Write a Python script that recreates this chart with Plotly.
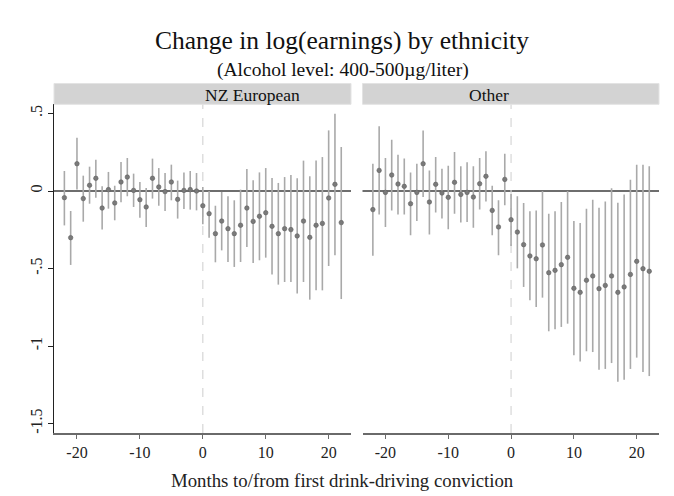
import plotly.graph_objects as go

# Event-time (months relative to first drink-driving conviction)
months = list(range(-22, 23))

# NZ European: point estimates and 95% CI bounds
nz_est = [-0.043, -0.301, 0.176, -0.049, 0.037, 0.082, -0.110, 0.009, -0.077, 0.058,
          0.090, 0.004, -0.056, -0.103, 0.082, 0.026, -0.004, 0.058, -0.054, 0.004,
          0.009, 0.000, -0.095, -0.146, -0.275, -0.194, -0.243, -0.275, -0.221, -0.110,
          -0.196, -0.163, -0.140, -0.228, -0.275, -0.243, -0.249, -0.290, -0.194, -0.299,
          -0.221, -0.209, -0.045, 0.043, -0.204]
nz_hi = [0.129, -0.129, 0.344, 0.099, 0.157, 0.202, 0.030, 0.123, 0.034, 0.187,
         0.213, 0.112, 0.058, 0.019, 0.209, 0.148, 0.116, 0.170, 0.067, 0.120,
         0.129, 0.116, 0.026, 0.000, -0.095, -0.006, -0.034, -0.060, 0.009, 0.142,
         0.069, 0.120, 0.148, 0.084, 0.052, 0.090, 0.103, 0.082, 0.196, 0.095,
         0.196, 0.219, 0.391, 0.499, 0.284]
nz_lo = [-0.222, -0.477, 0.009, -0.198, -0.082, -0.043, -0.249, -0.114, -0.189, -0.073,
         -0.034, -0.103, -0.172, -0.232, -0.049, -0.095, -0.129, -0.060, -0.178, -0.116,
         -0.120, -0.125, -0.215, -0.301, -0.460, -0.383, -0.458, -0.490, -0.458, -0.361,
         -0.465, -0.447, -0.430, -0.538, -0.604, -0.587, -0.587, -0.662, -0.587, -0.701,
         -0.641, -0.641, -0.484, -0.415, -0.697]

# Other ethnicities: point estimates and 95% CI bounds
ot_est = [-0.120, 0.133, -0.009, 0.103, 0.045, 0.030, -0.082, -0.009, 0.176, -0.071,
          0.043, -0.013, -0.041, 0.056, -0.022, -0.009, -0.039, 0.047, 0.095, -0.125,
          -0.232, 0.075, -0.185, -0.265, -0.346, -0.419, -0.437, -0.348, -0.527, -0.512,
          -0.475, -0.428, -0.628, -0.654, -0.576, -0.548, -0.630, -0.609, -0.548, -0.654,
          -0.619, -0.538, -0.454, -0.501, -0.518]
ot_hi = [0.176, 0.417, 0.213, 0.331, 0.234, 0.209, 0.120, 0.176, 0.391, 0.133,
         0.219, 0.144, 0.163, 0.252, 0.159, 0.185, 0.159, 0.213, 0.256, 0.034,
         -0.060, 0.241, -0.020, -0.034, -0.077, -0.131, -0.125, 0.000, -0.146, -0.131,
         -0.071, 0.000, -0.194, -0.206, -0.114, -0.056, -0.108, -0.067, 0.017, -0.075,
         -0.022, 0.073, 0.170, 0.170, 0.159]
ot_lo = [-0.417, -0.151, -0.232, -0.125, -0.151, -0.151, -0.286, -0.194, -0.039, -0.280,
         -0.138, -0.178, -0.247, -0.146, -0.204, -0.200, -0.237, -0.120, -0.067, -0.286,
         -0.415, -0.092, -0.355, -0.499, -0.619, -0.705, -0.748, -0.688, -0.905, -0.892,
         -0.877, -0.856, -1.060, -1.100, -1.034, -1.039, -1.153, -1.148, -1.110, -1.230,
         -1.217, -1.148, -1.075, -1.168, -1.194]

panel_titles = ["NZ European", "Other"]
x_ticks = [-20, -10, 0, 10, 20]
x_tick_text = ["-20", "-10", "0", "10", "20"]
y_ticks = [0.5, 0, -0.5, -1, -1.5]
y_tick_text = [".5", "0", "-.5", "-1", "-1.5"]

FONT = "Liberation Serif"
W, H = 674, 496


def px_x(p):
    return p / W


def px_y(p):
    return (H - p) / H


fig = go.Figure()

panels = [(nz_est, nz_hi, nz_lo, "x", "y"), (ot_est, ot_hi, ot_lo, "x2", "y2")]
for est, hi, lo, xa, ya in panels:
    fig.add_trace(go.Scatter(
        x=months, y=est, xaxis=xa, yaxis=ya, mode="markers",
        marker=dict(size=4.5, color="#7a7a7a", line=dict(width=0.6, color="#5f5f5f")),
        error_y=dict(type="data", symmetric=False,
                     array=[h - e for h, e in zip(hi, est)],
                     arrayminus=[e - l for e, l in zip(est, lo)],
                     color="#a9a9a9", thickness=1.6, width=0),
        showlegend=False, hoverinfo="skip",
    ))

dom_left = [px_x(54), px_x(351)]
dom_right = [px_x(362.5), px_x(659)]
dom_y = [px_y(433), px_y(104)]
x_range = [-23.65, 23.55]
y_range = [(191 - 433) / 155, (191 - 104) / 155]

axis_x_common = dict(range=x_range, tickvals=x_ticks, ticktext=x_tick_text,
                     ticks="outside", ticklen=4,
                     tickcolor="#6a6a6a", showline=True, linecolor="#6a6a6a", linewidth=1.5,
                     showgrid=False, zeroline=False,
                     tickfont=dict(family=FONT, size=16, color="#222"))

fig.update_layout(
    width=W, height=H, margin=dict(l=0, r=0, t=0, b=0),
    paper_bgcolor="white", plot_bgcolor="white",
    xaxis=dict(domain=dom_left, anchor="y", **axis_x_common),
    xaxis2=dict(domain=dom_right, anchor="y2", **axis_x_common),
    yaxis=dict(domain=dom_y, range=y_range, anchor="x", tickvals=y_ticks, ticktext=y_tick_text,
               tickangle=-90, ticks="outside", ticklen=5, tickcolor="#222",
               showline=True, linecolor="#222", linewidth=1, showgrid=False, zeroline=False,
               tickfont=dict(family=FONT, size=16, color="#222")),
    yaxis2=dict(domain=dom_y, range=y_range, anchor="x2", showticklabels=False,
                ticks="", showline=False, showgrid=False, zeroline=False),
)

shapes = []
for xa, ya, dom in [("x", "y", dom_left), ("x2", "y2", dom_right)]:
    # horizontal reference at zero
    shapes.append(dict(type="line", xref=f"{xa} domain", yref=ya, x0=0, x1=1, y0=0, y1=0,
                       line=dict(color="#6e6e6e", width=2), layer="below"))
    # vertical dashed line at the conviction month
    shapes.append(dict(type="line", xref=xa, yref=f"{ya} domain", x0=0, x1=0, y0=0, y1=1,
                       line=dict(color="#d6d6d6", width=1.2, dash="dash"), layer="below"))
    # panel strip
    shapes.append(dict(type="rect", xref="paper", yref="paper", x0=dom[0], x1=dom[1],
                       y0=px_y(104.3), y1=px_y(83.5), fillcolor="#d3d3d3",
                       line=dict(color="#e3e3e3", width=1)))
fig.update_layout(shapes=shapes)

annotations = [
    dict(text="Change in log(earnings) by ethnicity", x=px_x(342), y=px_y(41),
         xref="paper", yref="paper", yanchor="middle", showarrow=False,
         font=dict(family=FONT, size=25.5, color="#111")),
    dict(text="(Alcohol level: 400-500µg/liter)", x=px_x(342.5), y=px_y(70.5),
         xref="paper", yref="paper", yanchor="middle", showarrow=False,
         font=dict(family=FONT, size=19.5, color="#111")),
    dict(text="Months to/from first drink-driving conviction", x=px_x(342), y=px_y(480),
         xref="paper", yref="paper", yanchor="middle", showarrow=False,
         font=dict(family=FONT, size=18.8, color="#222")),
]
for title, dom in zip(panel_titles, [dom_left, dom_right]):
    annotations.append(dict(text=title, x=(dom[0] + dom[1]) / 2, y=px_y(95), xref="paper",
                            yref="paper", yanchor="middle", showarrow=False,
                            font=dict(family=FONT, size=17.5, color="#111")))
fig.update_layout(annotations=annotations)

fig.write_html("out.html")
